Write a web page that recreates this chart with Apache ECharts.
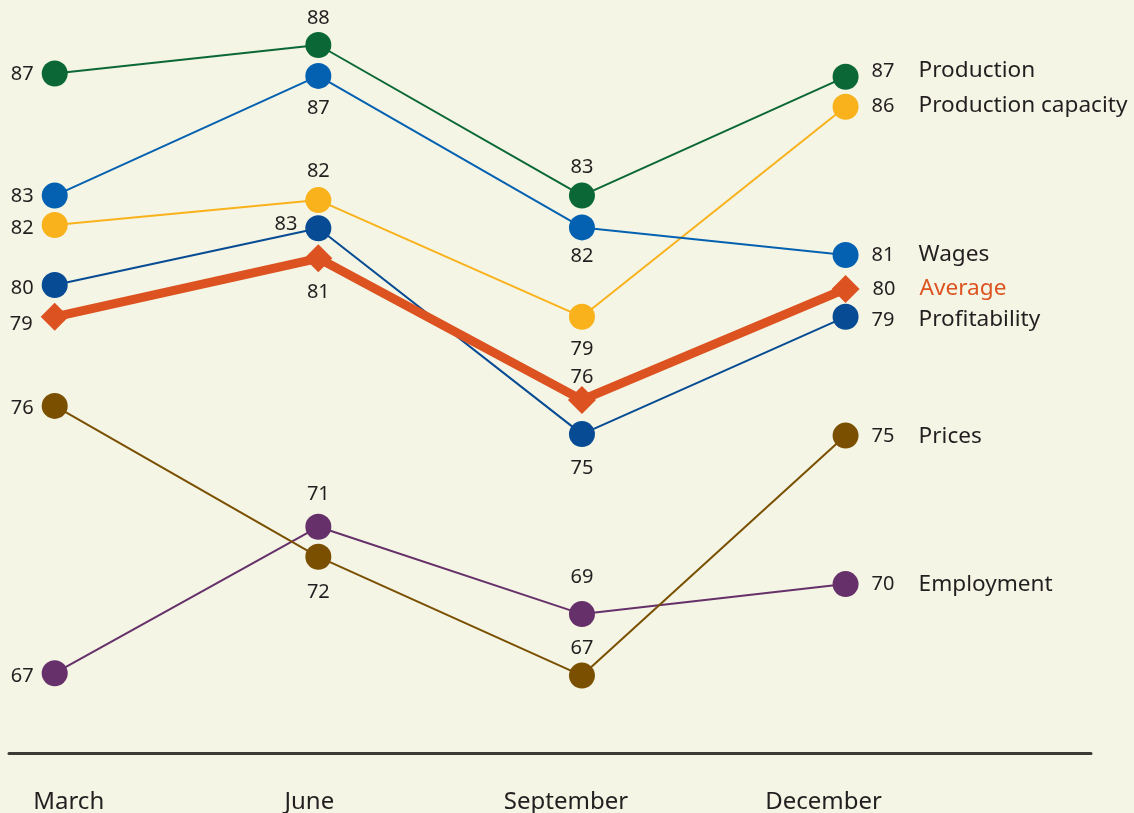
<!DOCTYPE html>
<html><head><meta charset="utf-8">
<script src="https://cdn.jsdelivr.net/npm/echarts@6/dist/echarts.min.js"></script>
<style>html,body{margin:0;padding:0;background:#f4f5e4;}#chart{width:1134px;height:813px;}</style>
</head><body><div id="chart"></div>
<script>
// ---- data ----
const months = ['March', 'June', 'September', 'December'];
const monthIndex = [0, 1, 2, 3];

const production = [87.05, 88.0, 82.98, 86.94];
const productionLabels = ['87', '88', '83', '87'];
const capacity = [82.0, 82.83, 78.94, 85.94];
const capacityLabels = ['82', '82', '79', '86'];
const wages = [82.98, 86.97, 81.92, 81.0];
const wagesLabels = ['83', '87', '82', '81'];
const profitability = [80.0, 81.89, 75.03, 78.94];
const profitabilityLabels = ['80', '83', '75', '79'];
const average = [78.94, 80.89, 76.17, 79.87];
const averageLabels = ['79', '81', '76', '80'];
const prices = [75.97, 70.94, 66.98, 74.98];
const pricesLabels = ['76', '72', '67', '75'];
const employment = [67.06, 71.94, 69.03, 70.03];
const employmentLabels = ['67', '71', '69', '70'];

// ---- style ----
const FONT = "'Noto Sans', 'Open Sans', sans-serif";
const TEXT = '#231f20';
const BG = '#f4f5e4';
const ORANGE = '#dc5220';

// label placement per point (style only)
const placeProduction = ['left', 'top', 'top', 'right'];
const placeCapacity = ['left', 'top', 'bottom', 'right'];
const placeWages = ['left', 'bottom', 'bottom', 'right'];
const placeProfit = ['left', 'left', 'bottom', 'right'];
const placeAverage = ['left', 'bottom', 'top', 'right'];
const placePrices = ['left', 'bottom', 'top', 'right'];
const placeEmployment = ['left', 'top', 'top', 'right'];
// vertical nudges of labels (px)
const nudgeProduction = [1, 4, 3, -6];
const nudgeCapacity = [3, 2, 1, -1];
const nudgeWages = [1, 1, -2, 0];
const nudgeProfit = [3, -4, 3, 3];
const nudgeAverage = [7, 2, 9, 0];
const nudgePrices = [2, 4, 4, 1];
const nudgeEmployment = [3, -2, -6, 0];
const monthShift = [14, -9, -16, -22];

function makeSeries(name, values, labels, color, place, nudge, opts) {
  opts = opts || {};
  return {
    type: 'line',
    name: name,
    symbol: opts.symbol || 'circle',
    symbolSize: opts.symbolSize || 26,
    z: opts.z || 2,
    lineStyle: { color: color, width: opts.width || 2 },
    itemStyle: { color: color },
    emphasis: { disabled: true },
    data: values.map(function (v, i) {
      const last = i === values.length - 1;
      return {
        value: [monthIndex[i], v],
        label: {
          show: true,
          position: place[i],
          distance: last ? 13 : 8,
          offset: [0, nudge[i]],
          fontFamily: FONT,
          fontSize: 20,
          color: TEXT,
          formatter: last ? '{v|' + labels[i] + '}{n|' + name + '}' : labels[i],
          rich: {
            v: { width: 47, fontFamily: FONT, fontSize: 20, color: TEXT },
            n: { fontFamily: FONT, fontSize: 22.6, color: opts.nameColor || TEXT }
          }
        }
      };
    })
  };
}

const monthRich = {};
monthShift.forEach(function (s, i) {
  monthRich['m' + i] = {
    fontFamily: FONT, fontSize: 24, color: TEXT,
    padding: s >= 0 ? [0, 0, 0, 2 * s] : [0, -2 * s, 0, 0]
  };
});

const chart = echarts.init(document.getElementById('chart'), null, { renderer: 'canvas' });
chart.setOption({
  backgroundColor: BG,
  animation: false,
  grid: { left: 9, right: 43, top: 15, bottom: 60, containLabel: false, outerBoundsMode: 'none' },
  xAxis: {
    type: 'value',
    min: -0.1734,
    max: 3.931,
    splitLine: { show: false },
    axisTick: { show: false },
    axisLine: { show: true, onZero: false, lineStyle: { color: '#3b3b35', width: 3 } },
    axisLabel: {
      customValues: monthIndex,
      margin: 37,
      formatter: function (v) { return '{m' + v + '|' + months[v] + '}'; },
      rich: monthRich
    }
  },
  yAxis: {
    type: 'value',
    min: 64.4,
    max: 89,
    show: false,
    splitLine: { show: false }
  },
  series: [
    makeSeries('Employment', employment, employmentLabels, '#66306a', placeEmployment, nudgeEmployment),
    makeSeries('Prices', prices, pricesLabels, '#7a5000', placePrices, nudgePrices),
    makeSeries('Production capacity', capacity, capacityLabels, '#f9b21b', placeCapacity, nudgeCapacity),
    makeSeries('Wages', wages, wagesLabels, '#0461b1', placeWages, nudgeWages),
    makeSeries('Production', production, productionLabels, '#0b6836', placeProduction, nudgeProduction),
    makeSeries('Profitability', profitability, profitabilityLabels, '#064b93', placeProfit, nudgeProfit),
    makeSeries('Average', average, averageLabels, ORANGE, placeAverage, nudgeAverage,
      { symbol: 'diamond', symbolSize: 28, width: 9, z: 5, nameColor: ORANGE })
  ]
});
</script>
</body></html>
